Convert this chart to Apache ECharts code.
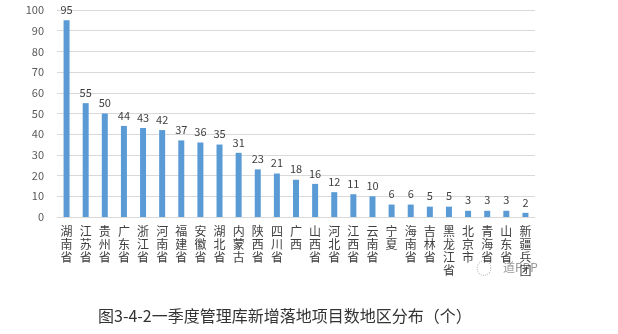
<!DOCTYPE html>
<html><head><meta charset="utf-8">
<script src="https://cdn.jsdelivr.net/npm/echarts@6/dist/echarts.min.js"></script>
<style>html,body{margin:0;padding:0;background:#fff}#c{width:618px;height:334px}</style>
</head><body><div id="c"></div>
<script>
var categories = ["湖南省","江苏省","贵州省","广东省","浙江省","河南省","福建省","安徽省","湖北省","内蒙古","陕西省","四川省","广西","山西省","河北省","江西省","云南省","宁夏","海南省","吉林省","黑龙江省","北京市","青海省","山东省","新疆兵团"];
var values = [95,55,50,44,43,42,37,36,35,31,23,21,18,16,12,11,10,6,6,5,5,3,3,3,2];
var yTicks = [0,10,20,30,40,50,60,70,80,90,100];
var titleText = "图3-4-2一季度管理库新增落地项目数地区分布（个）";
var font = "'Noto Sans CJK SC', sans-serif";
var chart = echarts.init(document.getElementById('c'));
chart.setOption({
  animation:false,
  grid:{left:57,right:83,top:10,bottom:117,containLabel:false},
  xAxis:{type:'category',data:categories,
    axisLine:{lineStyle:{color:'#d9d9d9'}},axisTick:{show:false},
    axisLabel:{interval:0,margin:8,color:'#404040',fontSize:12,fontFamily:font,lineHeight:13,verticalAlign:'top',
      formatter:function(v){return v.split('').join('\n');}}},
  yAxis:{type:'value',min:0,max:100,interval:10,
    axisLine:{show:false},axisTick:{show:false},
    splitLine:{lineStyle:{color:'#d9d9d9'}},
    axisLabel:{color:'#595959',fontSize:11,fontFamily:font,margin:13,
      formatter:function(v){return yTicks.indexOf(v)>=0?String(v):'';}}},
  series:[{type:'bar',data:values,barWidth:6,itemStyle:{color:'#5b9bd5'},
    label:{show:true,position:'top',distance:5,color:'#404040',fontSize:11,fontFamily:font}}],
  graphic:[
    {type:'text',left:98,top:308,style:{text:titleText,fontSize:16,fontFamily:font,fill:'#333'}},
    {type:'text',left:476,top:260,style:{text:'◌',fontSize:16,fontFamily:font,fill:'#bbb'}},
    {type:'text',left:503,top:261,style:{text:'道PPP',fontSize:12,fontFamily:font,fill:'#999'}}
  ]
});
</script></body></html>
